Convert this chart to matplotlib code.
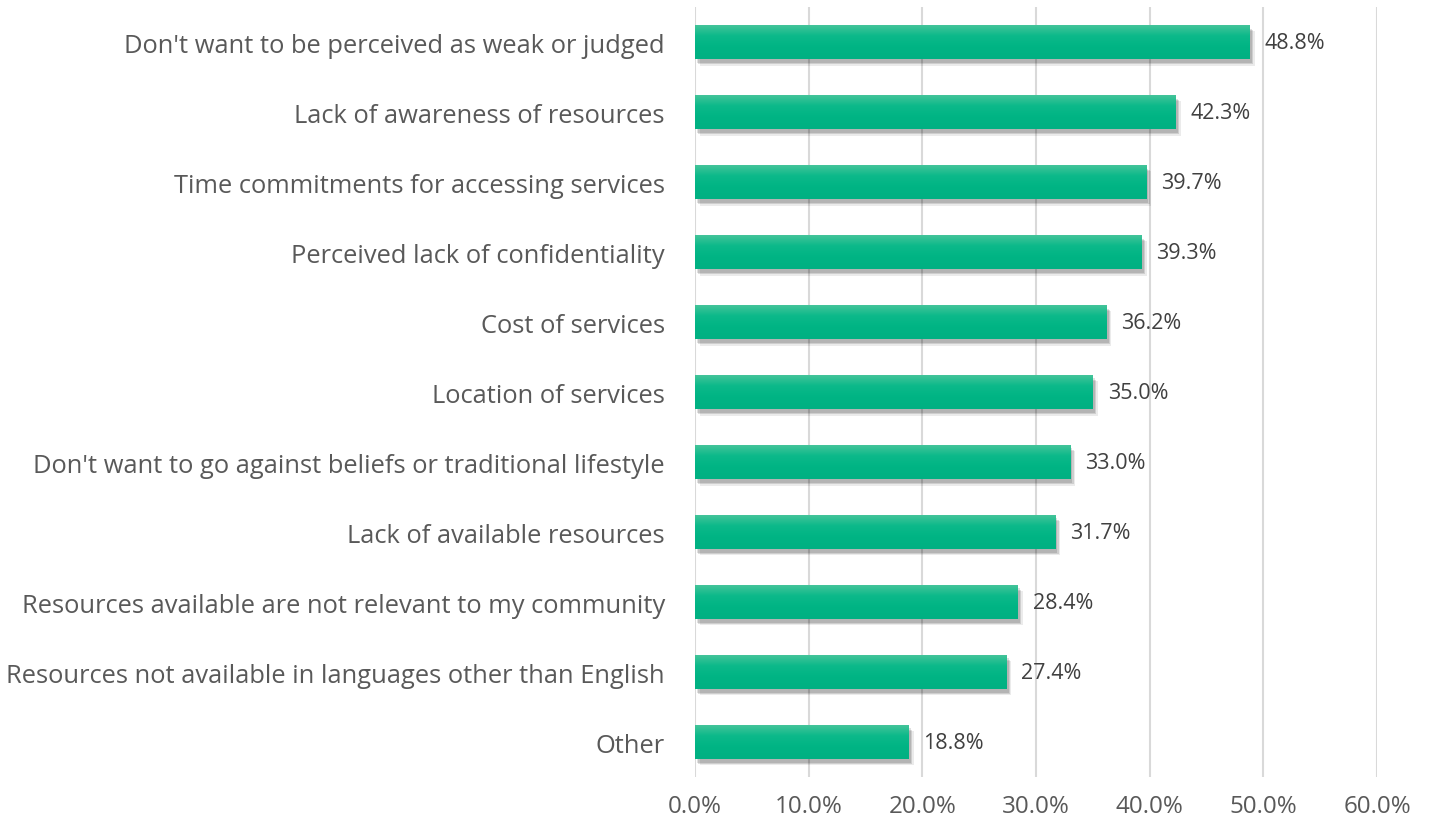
import matplotlib
matplotlib.use("Agg")
import matplotlib.pyplot as plt
import matplotlib.patheffects as pe
from matplotlib.colors import LinearSegmentedColormap
import numpy as np

categories = [
    "Don't want to be perceived as weak or judged",
    "Lack of awareness of resources",
    "Time commitments for accessing services",
    "Perceived lack of confidentiality",
    "Cost of services",
    "Location of services",
    "Don't want to go against beliefs or traditional lifestyle",
    "Lack of available resources",
    "Resources available are not relevant to my community",
    "Resources not available in languages other than English",
    "Other",
]
values = [48.8, 42.3, 39.7, 39.3, 36.2, 35.0, 33.0, 31.7, 28.4, 27.4, 18.8]
xticks = [0, 10, 20, 30, 40, 50, 60]

plt.rcParams['font.family'] = ['Open Sans', 'DejaVu Sans']
text_color = '#595959'

fig = plt.figure(figsize=(14.3, 8.29), dpi=100)
ax = fig.add_axes([0.486, 0.0615, 0.477, 0.9285])

y = np.arange(len(categories))
shadow = [
    pe.SimplePatchShadow(offset=(1.5, -2.5), shadow_rgbFace='#000000', alpha=0.12),
    pe.SimplePatchShadow(offset=(2.5, -3.5), shadow_rgbFace='#000000', alpha=0.12),
    pe.SimplePatchShadow(offset=(3.5, -4.5), shadow_rgbFace='#000000', alpha=0.08),
    pe.Normal(),
]
bars = ax.barh(y, values, height=0.49, color='#00b386', zorder=3, path_effects=shadow)

# gradient fill
grad = np.linspace(0, 1, 64).reshape(-1, 1)
cmap = LinearSegmentedColormap.from_list('g', ['#48c59b', '#0cb98a', '#00b484', '#00b082'])
for b in bars:
    x0, y0, w, h = b.get_x(), b.get_y(), b.get_width(), b.get_height()
    im = ax.imshow(grad, extent=[x0, x0 + w, y0 + h, y0], aspect='auto', cmap=cmap, zorder=4)
    im.set_clip_path(b)

for yi, v in zip(y, values):
    ax.text(v + 1.3, yi, f"{v:.1f}%", va='center', ha='left', fontsize=15.5, color='#404040', zorder=5)

ax.set_xlim(0, 60)
ax.set_ylim(len(categories) - 0.5, -0.5)
ax.set_xticks(xticks)
ax.set_xticklabels([f"{t:.1f}%" for t in xticks], fontsize=17.4, color=text_color)
ax.set_yticks(y)
ax.set_yticklabels(categories, fontsize=18.4, color=text_color)
ax.tick_params(axis='both', length=0)
ax.tick_params(axis='x', pad=12)
ax.tick_params(axis='y', pad=21.6)
ax.grid(axis='x', color='#d9d9d9', linewidth=1.5, zorder=0)
for s in ax.spines.values():
    s.set_visible(False)

fig.savefig('out.png', dpi=100)
